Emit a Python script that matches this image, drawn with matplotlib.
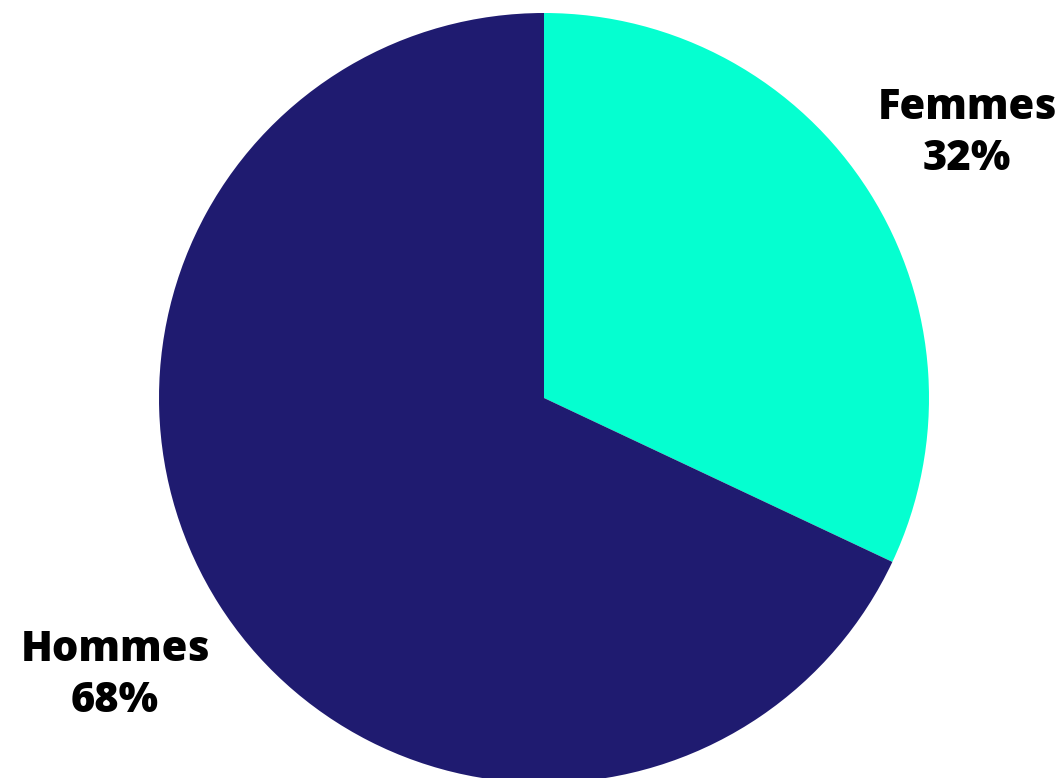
import matplotlib.pyplot as plt

labels = ["Femmes", "Hommes"]
shares = [32, 68]
colors = ["#05FFD0", "#1F1B70"]
label_pos = [(1.099, 0.688), (-1.114, -0.722)]

W, H = 1064, 778
cx, cy, r = 544, 398, 385

fig = plt.figure(figsize=(W / 100, H / 100), dpi=100)
ax = fig.add_axes([(cx - r) / W, (H - cy - r) / H, 2 * r / W, 2 * r / H])

ax.pie(shares, colors=colors, startangle=90, counterclock=False, radius=1,
       wedgeprops=dict(linewidth=0))
for lab, val, (x, y) in zip(labels, shares, label_pos):
    ax.text(x, y, f"{lab}\n{val}%", ha="center", va="center",
            fontsize=30, fontweight=800, family=["Open Sans", "DejaVu Sans"],
            linespacing=1.28, clip_on=False)

ax.set_xlim(-1, 1)
ax.set_ylim(-1, 1)
ax.set_aspect("equal")
ax.axis("off")

fig.savefig("out.png", dpi=100)
